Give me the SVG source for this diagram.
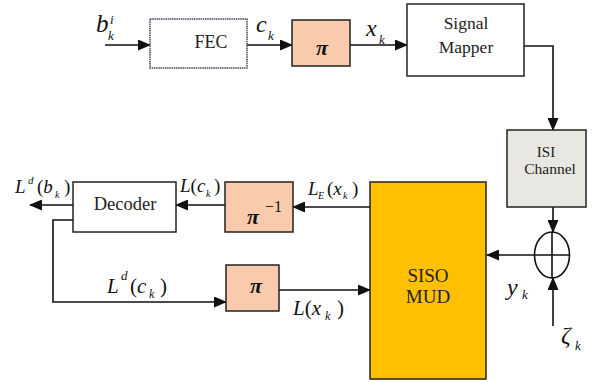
<svg xmlns="http://www.w3.org/2000/svg" width="598" height="382" viewBox="0 0 598 382" font-family="Liberation Serif">
<style>
.box{stroke:#222;stroke-width:1.5}
.w{fill:#fff}
.pk{fill:#F8CBAD}
.t{fill:#222;text-anchor:middle}
.m{font-style:italic;fill:#111}
.n{font-style:normal}
.c{fill:none;stroke:#111;stroke-width:1.6}
</style>
<defs>
<marker id="ah" markerUnits="userSpaceOnUse" markerWidth="13" markerHeight="11" refX="12" refY="5.5" orient="auto">
<path d="M0,0 L13,5.5 L0,11 z" fill="#111"/>
</marker>
</defs>
<rect width="598" height="382" fill="#fff"/>

<g id="connectors">
<path class="c" d="M105,45 H150" marker-end="url(#ah)"/>
<path class="c" d="M247,45 H292" marker-end="url(#ah)"/>
<path class="c" d="M350,45 H407" marker-end="url(#ah)"/>
<path class="c" d="M524,46 H553 V130" marker-end="url(#ah)"/>
<path class="c" d="M553,207 V232" marker-end="url(#ah)"/>
<path class="c" d="M535,255 H487" marker-end="url(#ah)"/>
<path class="c" d="M553,326 V278" marker-end="url(#ah)"/>
<path class="c" d="M373,207 H293" marker-end="url(#ah)"/>
<path class="c" d="M225,205 H176" marker-end="url(#ah)"/>
<path class="c" d="M73,205 H30" marker-end="url(#ah)"/>
<path class="c" d="M77,220 H53 V302 H226" marker-end="url(#ah)"/>
<path class="c" d="M279,290 H370" marker-end="url(#ah)"/>
</g>

<g id="fec">
<rect x="150" y="19" width="97" height="49" fill="#fff" stroke="#3d4a5a" stroke-width="1.5" stroke-dasharray="1.5,0.7"/>
<text class="t" x="211" y="48" font-size="18">FEC</text>
</g>

<g id="pi1">
<rect class="box pk" x="292" y="20" width="58" height="46"/>
<text class="m" x="322" y="55" font-size="22" font-weight="bold" text-anchor="middle">π</text>
</g>

<g id="mapper">
<rect class="box w" x="407" y="4" width="117" height="72"/>
<text class="t" x="466" y="29" font-size="17.5">Signal</text>
<text class="t" x="466" y="53" font-size="17.5">Mapper</text>
</g>

<g id="isi">
<rect class="box" x="507" y="130" width="79" height="77" fill="#E8E7E1"/>
<text class="t" x="546" y="157" font-size="15">ISI</text>
<text class="t" x="550" y="174" font-size="15.5">Channel</text>
</g>

<g id="sum">
<ellipse cx="552" cy="255" rx="17.5" ry="23" fill="none" stroke="#111" stroke-width="1.6"/>
<path d="M534.5,255 H569.5 M552,232 V278" stroke="#111" stroke-width="1.6"/>
</g>

<g id="mud">
<rect class="box" x="370" y="182" width="116" height="197" fill="#FFC000"/>
<text class="t" x="428" y="282" font-size="19" fill="#3a3020">SISO</text>
<text class="t" x="428" y="303" font-size="19" fill="#3a3020">MUD</text>
</g>

<g id="deint">
<rect class="box pk" x="225" y="182" width="68" height="50"/>
<text class="m" x="247" y="224" font-size="22" font-weight="bold">π</text>
<text x="265" y="212" font-size="16" fill="#111">−1</text>
</g>

<g id="decoder">
<rect class="box w" x="73" y="182" width="103" height="50"/>
<text class="t" x="125" y="210" font-size="18.5">Decoder</text>
</g>

<g id="pi2">
<rect class="box pk" x="226" y="265" width="53" height="46"/>
<text class="m" x="256" y="293" font-size="22" font-weight="bold" text-anchor="middle">π</text>
</g>

<g id="labels">
<text class="m" x="96" y="32" font-size="25">b</text>
<text class="m" x="108" y="40" font-size="13">k</text>
<text class="m" x="110" y="24" font-size="13">i</text>

<text class="m" x="256" y="32" font-size="24">c</text>
<text class="m" x="268" y="40" font-size="13">k</text>

<text class="m" x="366" y="36" font-size="24">x</text>
<text class="m" x="379" y="44" font-size="13">k</text>

<text class="m" x="507" y="295" font-size="24">y</text>
<text class="m" x="522" y="299" font-size="13">k</text>

<text class="m" x="561" y="343" font-size="24">ζ</text>
<text class="m" x="575" y="350" font-size="13">k</text>

<text class="m" x="15" y="193" font-size="19">L</text>
<text class="m" x="28" y="184" font-size="11">d</text>
<text class="m" x="37" y="193" font-size="19"><tspan class="n">(</tspan>b</text>
<text class="m" x="55" y="198" font-size="10">k</text>
<text class="m n" x="64" y="193" font-size="19">)</text>

<text class="m" x="180" y="192" font-size="19">L<tspan class="n">(</tspan>c</text>
<text class="m" x="206" y="197" font-size="10">k</text>
<text class="m n" x="214" y="192" font-size="19">)</text>

<text class="m" x="308" y="195" font-size="19">L</text>
<text class="m" x="318" y="199" font-size="10">E</text>
<text class="m" x="327" y="195" font-size="19"><tspan class="n">(</tspan>x</text>
<text class="m" x="343" y="199" font-size="10">k</text>
<text class="m n" x="352" y="195" font-size="19">)</text>

<text class="m" x="107" y="293" font-size="21">L</text>
<text class="m" x="121" y="280" font-size="13">d</text>
<text class="m" x="130" y="293" font-size="21"><tspan class="n">(</tspan>c</text>
<text class="m" x="149" y="298" font-size="12">k</text>
<text class="m n" x="160" y="293" font-size="21">)</text>

<text class="m" x="293" y="315" font-size="21">L<tspan class="n">(</tspan>x</text>
<text class="m" x="325" y="320" font-size="12">k</text>
<text class="m n" x="337" y="315" font-size="21">)</text>
</g>
</svg>
